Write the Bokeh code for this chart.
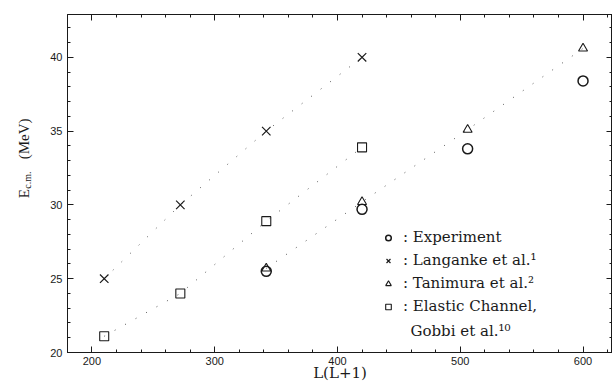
from math import pi
from bokeh.plotting import figure
from bokeh.layouts import row
from bokeh.models import (Range1d, LinearAxis, Legend, LegendItem, Label, FixedTicker,
                          CustomJSTickFormatter)
from bokeh.embed import file_html
from bokeh.resources import INLINE

# ---- data ----
L_theory = [210, 272, 342, 420]          # L(L+1) for L = 14, 16, 18, 20
langanke = [25.0, 30.0, 35.0, 40.0]
elastic = [21.1, 24.0, 28.9, 33.9]
L_exp = [342, 420, 506, 600]             # L = 18, 20, 22, 24
experiment = [25.5, 29.7, 33.8, 38.4]
tanimura = [25.7, 30.2, 35.1, 40.6]

x_major = [200, 300, 400, 500, 600]
y_major = [20, 25, 30, 35, 40]

# y-axis title pieces: E_{c.m.} (MeV)
ylab_text = ["E", "c.m.", "(MeV)"]

INK = "#1a1a1a"
SERIF = "DejaVu Serif"
H = 390
LABW = 40

# ---- narrow panel holding the rotated y-axis title ----
lab = figure(width=LABW, height=H, output_backend="svg", toolbar_location=None,
             x_range=Range1d(0, LABW), y_range=Range1d(0, H),
             min_border=0, outline_line_color=None)
lab.axis.visible = False
lab.grid.visible = False
lab.text(x=[23, 27, 23], y=[H - 212, H - 201, H - 167], text=ylab_text,
         angle=pi / 2, text_align="left", text_baseline="alphabetic",
         text_font=SERIF, text_font_size=["15px", "10px", "15px"], text_color=INK)

# ---- main plot ----
p = figure(width=612 - LABW, height=H, output_backend="svg", toolbar_location=None,
           x_range=Range1d(180.1, 624.0), y_range=Range1d(20, 42.9),
           min_border_left=67 - LABW, min_border_right=0, min_border_top=14,
           min_border_bottom=38)
p.background_fill_color = "white"
p.border_fill_color = "white"
p.outline_line_color = INK
p.outline_line_width = 1
p.xgrid.visible = False
p.ygrid.visible = False

xt = FixedTicker(ticks=x_major, minor_ticks=list(range(180, 621, 20)))
yt = FixedTicker(ticks=y_major, minor_ticks=list(range(20, 43)))

for ax, tk in ((p.xaxis[0], xt), (p.yaxis[0], yt)):
    ax.ticker = tk
    ax.major_tick_in = 6
    ax.major_tick_out = 0
    ax.minor_tick_in = 3
    ax.minor_tick_out = 0
    ax.axis_line_color = INK
    ax.major_tick_line_color = INK
    ax.minor_tick_line_color = INK
    ax.major_label_text_font = "Liberation Sans"
    ax.major_label_text_font_size = "11px"
    ax.major_label_text_color = INK

p.xaxis.major_label_standoff = 4
p.yaxis.major_label_standoff = 5
p.xaxis.axis_label = "L(L+1)"
p.xaxis.axis_label_text_font = SERIF
p.xaxis.axis_label_text_font_size = "15px"
p.xaxis.axis_label_text_font_style = "normal"
p.xaxis.axis_label_text_color = INK
p.xaxis.axis_label_standoff = -4

# mirrored ticks on top and right (no labels)
blank = CustomJSTickFormatter(code="return ''")
for side, tk in (("above", xt), ("right", yt)):
    ax = LinearAxis(ticker=tk, formatter=blank, major_label_standoff=0,
                    major_tick_in=6, major_tick_out=0, minor_tick_in=3, minor_tick_out=0,
                    axis_line_color=INK, major_tick_line_color=INK, minor_tick_line_color=INK)
    p.add_layout(ax, side)

# dotted guide lines
dot = dict(line_color="#555555", line_width=1, line_dash="1 11")
p.line(L_theory, langanke, **dot)
p.line(L_theory, elastic, **dot)
p.line(L_exp, tanimura, **dot)

r_exp = p.scatter(L_exp, experiment, marker="circle", size=10, fill_color=None,
                  line_color=INK, line_width=1.5)
r_lan = p.scatter(L_theory, langanke, marker="x", size=12, line_color=INK, line_width=1.2)
r_tan = p.scatter(L_exp, tanimura, marker="triangle", size=9, fill_color=None,
                  line_color=INK, line_width=1.1)
r_ela = p.scatter(L_theory, elastic, marker="square", size=9, fill_color=None,
                  line_color=INK, line_width=1.1)

legend = Legend(items=[
    LegendItem(label=": Experiment", renderers=[r_exp]),
    LegendItem(label=": Langanke et al.\u00b9", renderers=[r_lan]),
    LegendItem(label=": Tanimura et al.\u00b2", renderers=[r_tan]),
    LegendItem(label=": Elastic Channel,", renderers=[r_ela]),
], location=(314, 37), padding=0, margin=0, spacing=5,
    glyph_width=14, glyph_height=15, label_height=15, label_standoff=8,
    label_text_font=SERIF, label_text_font_size="15px", label_text_color=INK,
    border_line_color=None, background_fill_alpha=0)
p.add_layout(legend, "center")

p.add_layout(Label(x=343, y=21.7, x_units="screen", y_units="screen",
                   text="Gobbi et al.\u00b9\u2070", text_font=SERIF, text_font_size="15px",
                   text_color=INK, text_baseline="alphabetic"))

open("out.html", "w").write(file_html(row(lab, p), INLINE))
